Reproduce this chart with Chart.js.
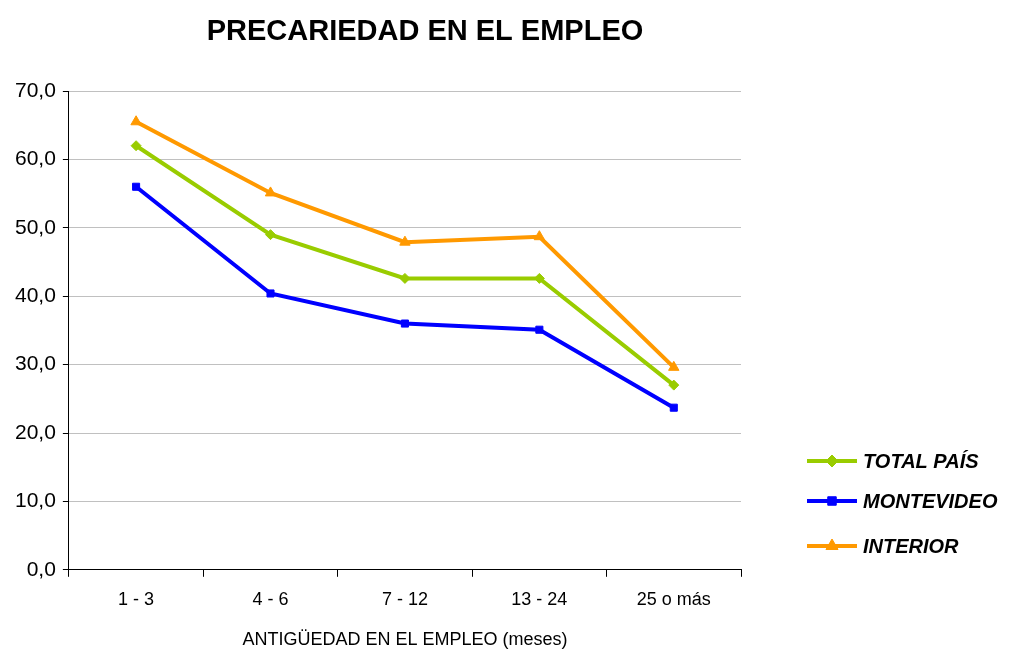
<!DOCTYPE html>
<html>
<head>
<meta charset="utf-8">
<script src="https://cdn.jsdelivr.net/npm/chart.js@4/dist/chart.umd.min.js"></script>
<style>
  html, body { margin: 0; padding: 0; background: #fff; }
  #wrap { width: 1016px; height: 651px; position: relative; }
</style>
</head>
<body>
<div id="wrap"><canvas id="chart"></canvas></div>
<script>
// Precariedad en el empleo por antigüedad (meses)
const categories = ['1 - 3', '4 - 6', '7 - 12', '13 - 24', '25 o más'];
const yTicks = [0, 10, 20, 30, 40, 50, 60, 70];

const totalPais = [62.0, 49.0, 42.6, 42.6, 27.0];
const montevideo = [56.0, 40.4, 36.0, 35.1, 23.7];
const interior = [65.5, 55.1, 47.9, 48.7, 29.6];

const FONT = 'Arial, "Liberation Sans", sans-serif';

/* ---------- title + legend drawn by hand to match placement ---------- */
const decor = {
  id: 'decor',
  afterDraw(chart) {
    const ctx = chart.ctx;
    ctx.save();
    ctx.fillStyle = '#000';
    ctx.font = 'bold 29px ' + FONT;
    ctx.textAlign = 'center';
    ctx.textBaseline = 'alphabetic';
    ctx.fillText('PRECARIEDAD EN EL EMPLEO', 425, 40);

    const rows = [461, 501, 546];
    chart.data.datasets.forEach((ds, i) => {
      const y = rows[i];
      ctx.strokeStyle = ds.borderColor;
      ctx.lineWidth = 4;
      ctx.beginPath();
      ctx.moveTo(807, y);
      ctx.lineTo(857, y);
      ctx.stroke();
      ctx.fillStyle = ds.borderColor;
      ctx.lineWidth = 1;
      Chart.helpers.drawPoint(ctx, {
        pointStyle: ds.pointStyle, radius: ds.pointRadius + 1, borderWidth: 1
      }, 832, y);
      ctx.fillStyle = '#000';
      ctx.font = 'italic bold 20px ' + FONT;
      ctx.textAlign = 'left';
      ctx.textBaseline = 'middle';
      ctx.fillText(ds.label, 863, y + 1);
    });
    ctx.restore();
  }
};

new Chart(document.getElementById('chart'), {
  type: 'line',
  data: {
    labels: categories,
    datasets: [
      { label: 'TOTAL PAÍS', data: totalPais, borderColor: '#99cc00', backgroundColor: '#99cc00',
        pointStyle: 'rectRot', pointRadius: 5 },
      { label: 'MONTEVIDEO', data: montevideo, borderColor: '#0000ff', backgroundColor: '#0000ff',
        pointStyle: 'rect', pointRadius: 5 },
      { label: 'INTERIOR', data: interior, borderColor: '#ff9900', backgroundColor: '#ff9900',
        pointStyle: 'triangle', pointRadius: 6 }
    ].map(d => ({ ...d, borderWidth: 4, tension: 0, pointBorderWidth: 1 }))
  },
  options: {
    responsive: true,
    maintainAspectRatio: false,
    animation: false,
    layout: { padding: { top: 91, right: 275, left: 8, bottom: 0 } },
    plugins: {
      legend: { display: false },
      title: { display: false },
      tooltip: { enabled: false }
    },
    scales: {
      x: {
        offset: true,
        grid: { offset: true, drawOnChartArea: false, drawTicks: true, tickLength: 7, color: '#000' },
        border: { color: '#000', width: 1 },
        ticks: { color: '#000', font: { family: FONT, size: 18 }, padding: 12 },
        title: { display: true, text: 'ANTIGÜEDAD EN EL EMPLEO (meses)', color: '#000',
          font: { family: FONT, size: 18 }, padding: { top: 7, bottom: 0 } }
      },
      y: {
        min: 0, max: 70,
        afterBuildTicks(axis) { axis.ticks = yTicks.map(v => ({ value: v })); },
        grid: { color: '#c0c0c0', tickColor: '#000', tickLength: 6, drawTicks: true },
        border: { color: '#000', width: 1 },
        ticks: {
          color: '#000', font: { family: FONT, size: 21 }, padding: 7,
          callback: v => v.toFixed(1).replace('.', ',')
        }
      }
    }
  },
  plugins: [decor]
});
</script>
</body>
</html>
